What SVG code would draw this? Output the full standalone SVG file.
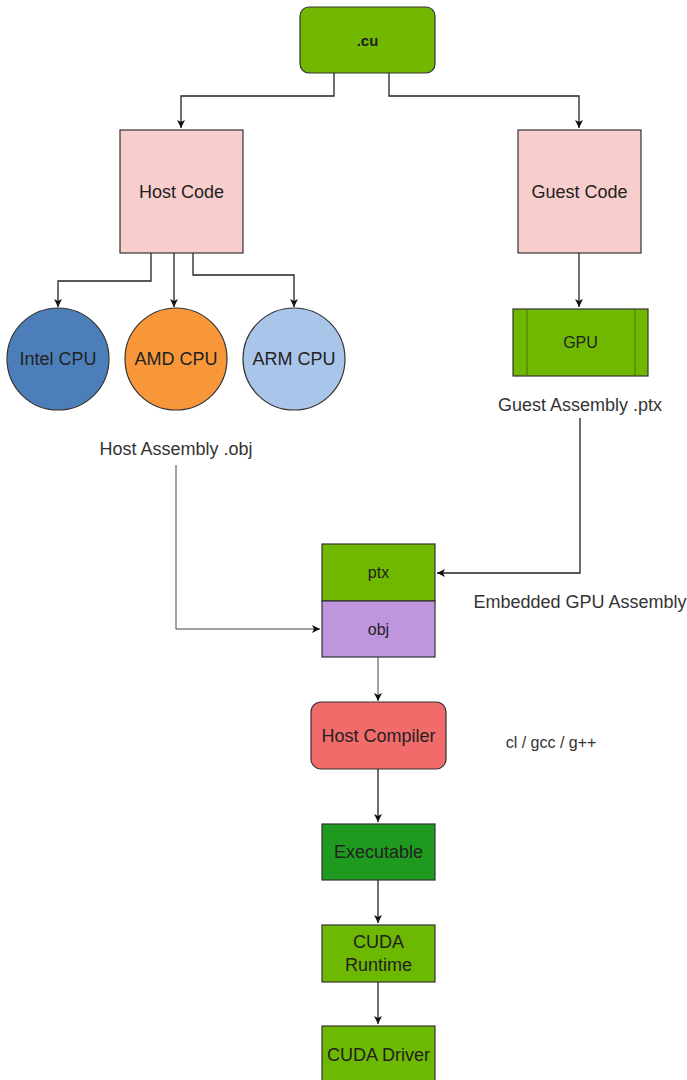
<svg xmlns="http://www.w3.org/2000/svg" width="687" height="1080" viewBox="0 0 687 1080">
<defs>
<marker id="ah" markerWidth="10" markerHeight="10" refX="9" refY="5" orient="auto" markerUnits="userSpaceOnUse">
<path d="M1,1 L9,5 L1,9 L3,5 Z" fill="#111"/>
</marker>
</defs>
<style>
text{font-family:"Liberation Sans",Arial,sans-serif;fill:#222;text-anchor:middle;dominant-baseline:central}
.n{font-size:18px}
.s{font-size:16px}
.l{font-size:18px;fill:#333}
.box{stroke:#333;stroke-width:1.2}
.c{fill:none;stroke:#222;stroke-width:1.3}
.c2{fill:none;stroke:#444;stroke-width:1}
</style>
<rect width="687" height="1080" fill="#fff"/>
<g id="connectors">
<path class="c" d="M334,73 V96 H181 V128" marker-end="url(#ah)"/>
<path class="c" d="M389,73 V96 H579 V128" marker-end="url(#ah)"/>
<path class="c" d="M151,253 V281 H58 V307" marker-end="url(#ah)"/>
<path class="c" d="M174,253 V307" marker-end="url(#ah)"/>
<path class="c" d="M193,253 V275 H294 V307" marker-end="url(#ah)"/>
<path class="c" d="M579,253 V307" marker-end="url(#ah)"/>
<path class="c2" d="M176,465 V629 H320" marker-end="url(#ah)"/>
<path class="c" d="M580,418 V573 H437" marker-end="url(#ah)"/>
<path class="c2" d="M378,656 V701" marker-end="url(#ah)"/>
<path class="c" d="M378,769 V822" marker-end="url(#ah)"/>
<path class="c" d="M378,880 V923" marker-end="url(#ah)"/>
<path class="c" d="M378,982 V1024" marker-end="url(#ah)"/>
</g>
<g id="cu">
<rect class="box" x="300" y="7" width="135" height="66" rx="9" fill="#72B800"/>
<text x="367.5" y="40" style="font-size:15px;font-weight:bold">.cu</text>
</g>
<g id="host-code">
<rect class="box" x="120" y="130" width="123" height="123" fill="#F8CECC" stroke="#666"/>
<text class="n" x="181.5" y="191.5">Host Code</text>
</g>
<g id="guest-code">
<rect class="box" x="518" y="130" width="123" height="123" fill="#F8CECC"/>
<text class="n" x="579.5" y="191.5">Guest Code</text>
</g>
<g id="intel-cpu">
<circle class="box" cx="58" cy="359" r="51" fill="#4C7FBA"/>
<text class="n" x="58" y="359">Intel CPU</text>
</g>
<g id="amd-cpu">
<circle class="box" cx="176" cy="359" r="51" fill="#F7973A"/>
<text class="n" x="176" y="359">AMD CPU</text>
</g>
<g id="arm-cpu">
<circle class="box" cx="294" cy="359" r="51" fill="#A9C5EA"/>
<text class="n" x="294" y="359">ARM CPU</text>
</g>
<g id="gpu">
<rect class="box" x="513" y="309" width="135" height="67" fill="#70B800" stroke="#3E7A00"/>
<line x1="527" y1="309" x2="527" y2="376" stroke="#3E7A00"/>
<line x1="635" y1="309" x2="635" y2="376" stroke="#3E7A00"/>
<text class="s" x="580.5" y="342.5">GPU</text>
</g>
<g id="host-assembly-label">
<text class="l" x="176" y="449">Host Assembly .obj</text>
</g>
<g id="guest-assembly-label">
<text class="l" x="580" y="405">Guest Assembly .ptx</text>
</g>
<g id="ptx">
<rect class="box" x="322" y="544" width="113" height="57" fill="#70B800"/>
<text class="s" x="378.5" y="572.5">ptx</text>
</g>
<g id="obj">
<rect class="box" x="322" y="601" width="113" height="56" fill="#BF95DE"/>
<text class="s" x="378.5" y="629">obj</text>
</g>
<g id="embedded-label">
<text class="l" x="580" y="602">Embedded GPU Assembly</text>
</g>
<g id="host-compiler">
<rect class="box" x="311" y="702" width="135" height="67" rx="10" fill="#F26B6B"/>
<text class="n" x="378.5" y="735.5">Host Compiler</text>
</g>
<g id="compiler-label">
<text class="l" x="551" y="742" style="font-size:16px">cl / gcc / g++</text>
</g>
<g id="executable">
<rect class="box" x="322" y="824" width="113" height="56" fill="#1E9B1E"/>
<text class="n" x="378.5" y="852">Executable</text>
</g>
<g id="cuda-runtime">
<rect class="box" x="322" y="925" width="113" height="57" fill="#6DB800"/>
<text class="n" x="378.5" y="942">CUDA</text>
<text class="n" x="378.5" y="965">Runtime</text>
</g>
<g id="cuda-driver">
<rect class="box" x="322" y="1026" width="113" height="60" fill="#6DB800"/>
<text class="n" x="378.5" y="1055">CUDA Driver</text>
</g>
</svg>
